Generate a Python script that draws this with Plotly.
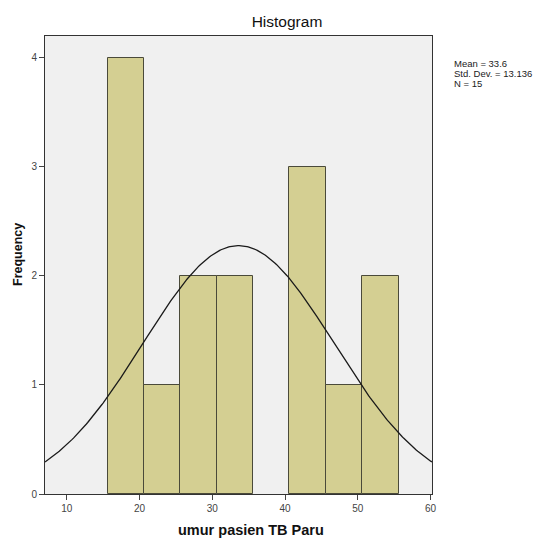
import numpy as np
import plotly.graph_objects as go

# Data
bin_starts = [15.6, 20.6, 25.6, 30.6, 35.6, 40.6, 45.6, 50.6]
counts = [4, 1, 2, 2, 0, 3, 1, 2]
bin_width = 5.0
mean_val = 33.6
std_val = 13.136
n_val = 15
x_ticks = [10, 20, 30, 40, 50, 60]
y_ticks = [0, 1, 2, 3, 4]
stat_lines = [f"Mean = {mean_val}", f"Std. Dev. = {std_val}", f"N = {n_val}"]

centers = [s + bin_width / 2 for s in bin_starts]
line_widths = [1 if c > 0 else 0 for c in counts]

xs = np.linspace(7, 60.2, 300)
ys = n_val * bin_width / (std_val * np.sqrt(2 * np.pi)) * np.exp(-0.5 * ((xs - mean_val) / std_val) ** 2)

fig = go.Figure()
fig.add_trace(go.Bar(
    x=centers, y=counts, width=[bin_width] * len(centers),
    marker=dict(color="#d4cf92", line=dict(color="#4a4a3a", width=line_widths)),
    hoverinfo="x+y", showlegend=False,
))
fig.add_trace(go.Scatter(
    x=xs, y=ys, mode="lines", line=dict(color="#1a1a1a", width=1.3),
    showlegend=False, hoverinfo="skip",
))

# page body has an 8px default margin; figure sized to compensate
W, H = 537, 536
L, R, T, B = 37, 113, 28, 50
PW, PH = W - L - R, H - T - B
fig.update_layout(
    width=W, height=H,
    margin=dict(l=L, r=R, t=T, b=B),
    paper_bgcolor="white", plot_bgcolor="#f0f0f0",
    font=dict(family="Liberation Sans, Arial, sans-serif", color="#222"),
    bargap=0,
    title=dict(text="Histogram", x=279 / W, xanchor="center", y=1 - 14 / H, yanchor="middle",
               font=dict(size=15.5, color="#111")),
    xaxis=dict(range=[7, 60.2], tickvals=x_ticks, ticks="outside", ticklen=5, automargin=False,
               showgrid=False, zeroline=False, showline=True, linecolor="#333", linewidth=1,
               mirror=True, tickfont=dict(size=10, color="#444")),
    yaxis=dict(range=[0, 4.2], tickvals=y_ticks, ticks="outside", ticklen=5, automargin=False,
               showgrid=False, zeroline=False, showline=True, linecolor="#333", linewidth=1,
               mirror=True, tickfont=dict(size=10, color="#444")),
)

# axis titles (placed as in the reference)
fig.add_annotation(
    xref="paper", yref="paper", x=(243 - L) / PW, y=(T + PH - 522) / PH,
    xanchor="center", yanchor="middle", showarrow=False,
    text="<b>umur pasien TB Paru</b>", font=dict(size=14.5, color="#111"),
)
fig.add_annotation(
    xref="paper", yref="paper", x=(10 - L) / PW, y=(T + PH - 247) / PH,
    xanchor="center", yanchor="middle", showarrow=False, textangle=-90,
    text="<b>Frequency</b>", font=dict(size=12.5, color="#111"),
)

for i, line in enumerate(stat_lines):
    yc = 55.5 + 10 * i
    fig.add_annotation(
        xref="paper", yref="paper", x=(445 - L) / PW, y=(T + PH - yc) / PH,
        xanchor="left", yanchor="middle", showarrow=False, borderpad=0,
        text=line, font=dict(size=9.5, color="#222"),
    )

fig.write_html("out.html")
